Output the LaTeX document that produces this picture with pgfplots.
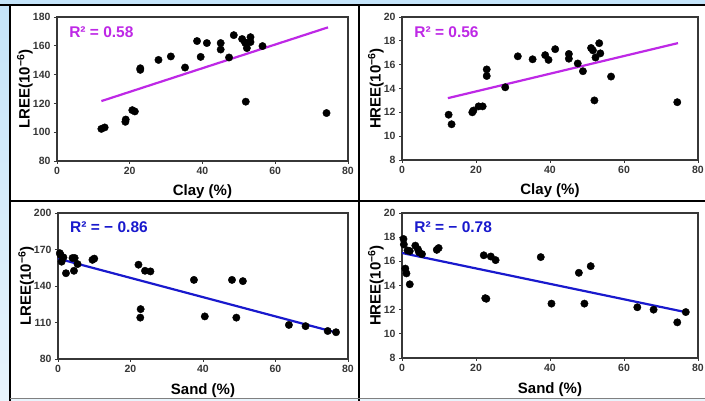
\documentclass[border=0pt]{standalone}
\usepackage{pgfplots}
\pgfplotsset{compat=1.18}
\usepackage{pgfplotstable}
\usepackage{fontspec}
\setmainfont{Liberation Sans}

\definecolor{trendmag}{RGB}{190,40,230}
\definecolor{trendblue}{RGB}{25,25,205}
\definecolor{framegray}{RGB}{55,55,55}
\definecolor{skyblue}{RGB}{196,228,250}
\definecolor{skypale}{RGB}{232,244,252}

% LREE / HREE against clay and sand content
\pgfplotstableread{
x y
12.2 102.3
13.1 103.3
18.8 107.2
18.9 108.8
20.7 115.3
21.4 114.4
22.9 144.4
22.9 143.3
27.9 150.2
31.3 152.6
35.2 144.9
38.5 163.3
39.5 152.3
41.2 161.9
45.0 161.9
45.0 157.4
47.3 151.9
48.6 167.4
50.9 164.7
51.7 162.3
52.2 158.4
53.2 166.0
53.2 162.6
51.8 162.0
51.9 121.2
56.5 159.8
74.1 113.3
}\clayLREE

\pgfplotstableread{
x y
12.6 11.8
13.4 11.0
19.0 12.0
19.3 12.15
20.7 12.5
21.8 12.5
22.9 15.6
22.9 15.05
27.9 14.1
31.3 16.7
35.3 16.45
38.7 16.8
39.6 16.4
41.4 17.3
45.1 16.9
45.1 16.5
47.5 16.1
48.9 15.45
51.1 17.4
51.6 17.2
52.3 16.6
53.3 17.8
53.6 16.95
52.0 13.0
56.5 15.0
74.4 12.85
}\clayHREE

\pgfplotstableread{
x y
0.5 167
0.7 165.5
1.5 163.5
1.0 160
2.2 150.5
4.0 163
4.6 163
4.4 152.5
5.4 158
9.5 161.5
10.0 162.5
22.2 157.5
22.8 121
22.7 114
24.0 152.5
25.5 152
37.5 145
40.5 115
48.0 145
49.2 114
51.0 144
63.7 108
68.3 107
74.4 103
76.7 102
}\sandLREE

\pgfplotstableread{
x y
0.4 17.85
0.5 17.4
1.5 16.9
2.1 16.85
0.9 15.4
1.2 15.0
2.1 14.1
3.6 17.3
4.3 17.0
4.6 16.75
5.4 16.6
9.4 16.95
9.9 17.1
22.1 16.5
22.5 12.95
22.8 12.9
24.0 16.4
25.3 16.1
37.5 16.35
40.4 12.5
47.8 15.05
49.3 12.5
51.0 15.6
63.6 12.2
68.0 12.0
74.4 10.95
76.7 11.8
}\sandHREE

\pgfplotsset{
  panel/.style={
    scale only axis,
    anchor=south west,
    axis line style={framegray, line width=1.2pt},
    tick align=outside, tick pos=left,
    major tick length=3pt,
    tick style={framegray, line width=0.8pt},
    xmin=0, xmax=80, xtick={0,20,...,80},
    /pgf/number format/assume math mode=true,
    ticklabel style={font=\fontsize{10.5}{12}\selectfont\bfseries, text=framegray},
    label style={font=\fontsize{15}{17}\selectfont\bfseries},
    xlabel style={at={(axis description cs:0.5,-0.215)}, anchor=center},
    ylabel style={at={(axis description cs:-0.11,0.5)}, anchor=center},
  },
  pts/.style={only marks, mark=*, mark size=3.7pt, mark options={fill=black, draw=black}},
}
\tikzset{rsq/.style={anchor=west, font=\fontsize{15.5}{17}\selectfont\bfseries}}

\begin{document}
\begin{tikzpicture}[x=1pt, y=1pt]
\useasboundingbox (0,0) rectangle (705,401);
% page background and panel frames
\shade[top color=skyblue, bottom color=skypale] (0,0) rectangle (705,401);
\fill[white] (10,2) rectangle (705,396);
\draw[black, line width=2pt] (0,396) -- (705,396);
\draw[black, line width=2pt] (10,0) -- (10,396);
\draw[black, line width=2pt] (359,0) -- (359,396);
\draw[black, line width=2pt] (10,200) -- (705,200);
\draw[gray, line width=1pt] (10,2) -- (705,2);

% LREE vs clay
\begin{axis}[panel, at={(57pt,240pt)}, width=291pt, height=144pt,
  ymin=80, ymax=180, ytick={80,100,...,180},
  xlabel={Clay (\%)}, ylabel={LREE(10\textsuperscript{−6})}]
\addplot[pts] table {\clayLREE};
\addplot[trendmag, line width=2.2pt] coordinates {(12.2,121.6) (74.5,172.8)};
\node[rsq, text=trendmag] at (axis description cs:0.03,0.895) {R² = 0.58};
\end{axis}

% HREE vs clay
\begin{axis}[panel, at={(402pt,241pt)}, width=296pt, height=143pt,
  ymin=8, ymax=20, ytick={8,10,...,20},
  xlabel={Clay (\%)}, ylabel={HREE(10\textsuperscript{−6})},
  ylabel style={at={(axis description cs:-0.088,0.5)}}]
\addplot[pts] table {\clayHREE};
\addplot[trendmag, line width=2.2pt] coordinates {(12.4,13.19) (74.6,17.81)};
\node[rsq, text=trendmag] at (axis description cs:0.03,0.895) {R² = 0.56};
\end{axis}

% LREE vs sand
\begin{axis}[panel, at={(58pt,42pt)}, width=290pt, height=146pt,
  ymin=80, ymax=200, ytick={80,110,...,200},
  xlabel={Sand (\%)}, ylabel={LREE(10\textsuperscript{−6})}]
\addplot[pts] table {\sandLREE};
\addplot[trendblue, line width=2.2pt] coordinates {(0,162.5) (76.8,101.7)};
\node[rsq, text=trendblue] at (axis description cs:0.03,0.905) {R² = − 0.86};
\end{axis}

% HREE vs sand
\begin{axis}[panel, at={(402pt,43pt)}, width=296pt, height=145pt,
  ymin=8, ymax=20, ytick={8,10,...,20},
  xlabel={Sand (\%)}, ylabel={HREE(10\textsuperscript{−6})},
  ylabel style={at={(axis description cs:-0.088,0.5)}}]
\addplot[pts] table {\sandHREE};
\addplot[trendblue, line width=2.2pt] coordinates {(0,16.69) (76.9,11.78)};
\node[rsq, text=trendblue] at (axis description cs:0.03,0.905) {R² = − 0.78};
\end{axis}
\end{tikzpicture}
\end{document}
